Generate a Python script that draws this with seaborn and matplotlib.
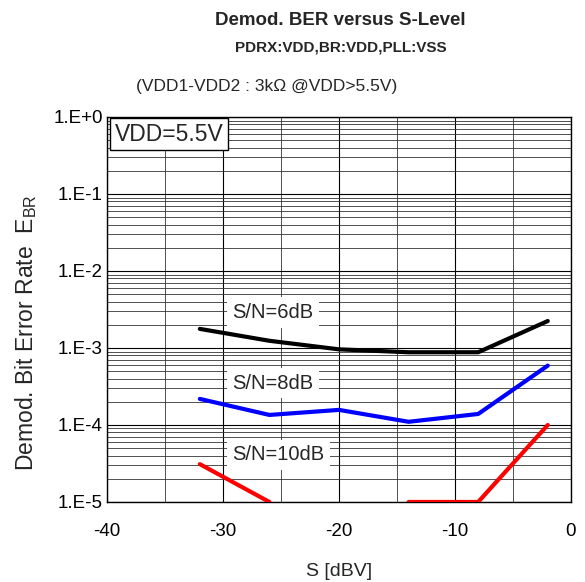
import numpy as np
import pandas as pd
import matplotlib
matplotlib.use("Agg")
import matplotlib.pyplot as plt
import seaborn as sns
from matplotlib.ticker import LogLocator, FixedLocator

# data
s_level = [-32, -26, -20, -14, -8, -2]
ber_6db = [1.77e-3, 1.24e-3, 9.6e-4, 8.8e-4, 8.8e-4, 2.24e-3]
ber_8db = [2.18e-4, 1.35e-4, 1.57e-4, 1.10e-4, 1.39e-4, 5.9e-4]
ber_10db = [3.1e-5, 1.0e-5, np.nan, 1.0e-5, 1.0e-5, 1.0e-4]  # no point at -20 (below range)

series_names = ["S/N=6dB", "S/N=8dB", "S/N=10dB"]
series_vals = [ber_6db, ber_8db, ber_10db]
series_colors = ["black", "#0000ff", "#ff0000"]

y_ticks = [1e-5, 1e-4, 1e-3, 1e-2, 1e-1, 1e0]
y_tick_labels = ["1.E-5", "1.E-4", "1.E-3", "1.E-2", "1.E-1", "1.E+0"]
x_ticks = [-40, -30, -20, -10, 0]
x_tick_labels = ["-40", "-30", "-20", "-10", "0"]

sns.set_style("white")
plt.rcParams["font.family"] = ["Liberation Sans", "DejaVu Sans"]
plt.rcParams["mathtext.fontset"] = "custom"
plt.rcParams["mathtext.rm"] = "Liberation Sans"

fig = plt.figure(figsize=(5.85, 5.82), dpi=100)
ax = fig.add_axes([0.183, 0.1375, 0.793, 0.6615])

for name, vals, col in zip(series_names, series_vals, series_colors):
    df = pd.DataFrame({"S": s_level, "BER": vals})
    # break the line where a value is missing
    df["seg"] = df["BER"].isna().cumsum()
    df = df.dropna()
    sns.lineplot(data=df, x="S", y="BER", units="seg", estimator=None,
                 color=col, linewidth=3, ax=ax, zorder=3)

ax.set_yscale("log")
ax.set_xlim(-40, 0)
ax.set_ylim(1e-5, 1)
ax.yaxis.set_major_locator(FixedLocator(y_ticks))
ax.set_yticklabels(y_tick_labels)
ax.yaxis.set_minor_locator(LogLocator(base=10, subs=np.arange(2, 10)))
ax.yaxis.set_minor_formatter(plt.NullFormatter())
ax.xaxis.set_major_locator(FixedLocator(x_ticks))
ax.set_xticklabels(x_tick_labels)
ax.xaxis.set_minor_locator(FixedLocator([-35, -25, -15, -5]))
ax.tick_params(which="both", length=0, labelsize=13.5, colors="black")
ax.tick_params(axis="y", pad=3)
ax.tick_params(axis="x", pad=15)

ax.grid(which="major", axis="both", color="black", linewidth=0.8)
ax.grid(which="minor", axis="both", color="#333333", linewidth=0.6)
for sp in ax.spines.values():
    sp.set_visible(True)
    sp.set_color("black")
    sp.set_linewidth(1.0)

ax.set_xlabel("S [dBV]", fontsize=14, labelpad=17)
ax.set_ylabel(r"Demod. Bit Error Rate  E$_{\rm BR}$", fontsize=16.5)
ax.yaxis.set_label_coords(-0.147, 0.44)

# curve labels
label_pos = [(-29.2, 2.9e-3), (-29.2, 3.5e-4), (-29.2, 4.1e-5)]
for name, (lx, ly) in zip(series_names, label_pos):
    ax.text(lx, ly, name, fontsize=14.5, ha="left", va="center", zorder=4,
            bbox=dict(facecolor="white", edgecolor="none", pad=4))

ax.text(0.017, 0.985, "VDD=5.5V", transform=ax.transAxes, fontsize=16.5,
        ha="left", va="top", zorder=5,
        bbox=dict(facecolor="white", edgecolor="black", linewidth=1.0,
                  boxstyle="square,pad=0.2"))

fig.text(0.581, 0.965, "Demod. BER versus S-Level", fontsize=13.5, fontweight="bold",
         ha="center", va="center")
fig.text(0.583, 0.918, "PDRX:VDD,BR:VDD,PLL:VSS", fontsize=11, fontweight="bold",
         ha="center", va="center")
fig.text(0.455, 0.852, "(VDD1-VDD2 : 3k\u03a9 @VDD>5.5V)", fontsize=12.5,
         ha="center", va="center")

fig.savefig("out.png", dpi=100, facecolor="white")
